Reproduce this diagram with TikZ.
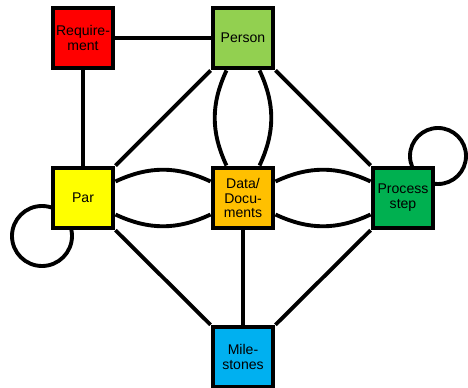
\documentclass[tikz,border=0pt]{standalone}
\usepackage{fontspec}
\setmainfont{Liberation Sans}
\usetikzlibrary{backgrounds}
\definecolor{reqred}{RGB}{255,0,0}
\definecolor{perslime}{RGB}{146,208,80}
\definecolor{paryel}{RGB}{255,255,0}
\definecolor{dataorg}{RGB}{255,192,0}
\definecolor{procgrn}{RGB}{0,176,80}
\definecolor{milblue}{RGB}{0,176,240}
\begin{document}
\begin{tikzpicture}[box/.style={draw,line width=2.8pt,minimum size=1.2cm,inner sep=0pt,align=center,font=\fontsize{8}{8.5}\selectfont},
  lnk/.style={line width=2.2pt}]
\useasboundingbox (0,0) rectangle (9.36,7.74);
% the six boxes
\node[box,fill=reqred] (req) at (1.66,6.98) {Require-\\ment};
\node[box,fill=perslime] (pers) at (4.86,6.98) {Person};
\node[box,fill=paryel] (par) at (1.66,3.78) {Par};
\node[box,fill=dataorg] (data) at (4.86,3.78) {Data/\\Docu-\\ments};
\node[box,fill=procgrn] (proc) at (8.06,3.78) {Process\\step};
\node[box,fill=milblue] (mile) at (4.86,0.6) {Mile-\\stones};
% straight links
\draw[lnk] (req) -- (pers);
\draw[lnk] (req) -- (par);
\draw[lnk] (pers) -- (par);
\draw[lnk] (pers) -- (proc);
\draw[lnk] (par) -- (mile);
\draw[lnk] (data) -- (mile);
\draw[lnk] (proc) -- (mile);
% double links
\draw[lnk] (pers.243) to[bend right=25] (data.117);
\draw[lnk] (pers.297) to[bend left=25] (data.63);
\draw[lnk] (par.27) to[bend left=25] (data.153);
\draw[lnk] (par.-27) to[bend right=25] (data.207);
\draw[lnk] (data.27) to[bend left=25] (proc.153);
\draw[lnk] (data.-27) to[bend right=25] (proc.207);
% self loops
\begin{scope}[on background layer]
\draw[lnk] ([shift={(-0.82,-0.76)}]par.center) circle (0.6);
\draw[lnk] ([shift={(0.7,0.84)}]proc.center) circle (0.56);
\end{scope}
\end{tikzpicture}
\end{document}
